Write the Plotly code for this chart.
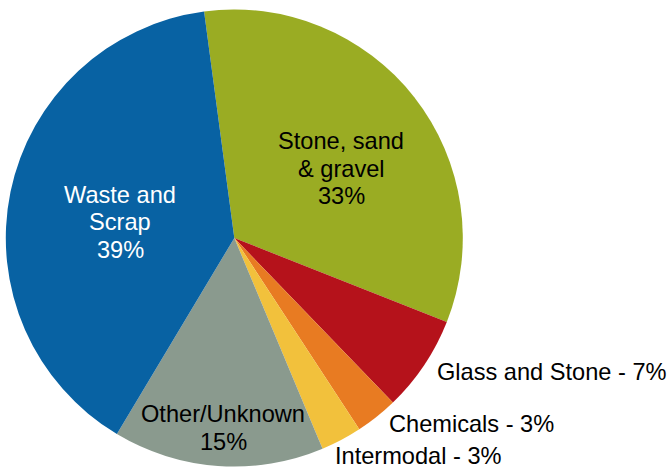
import plotly.graph_objects as go

# Data (clockwise from the top)
categories = ["Stone, sand & gravel", "Glass and Stone", "Chemicals", "Intermodal", "Other/Unknown", "Waste and Scrap"]
values = [33.1, 6.8, 3.0, 2.9, 14.9, 39.3]
colors = ["#9AAC23", "#B5121B", "#E87B22", "#F2C13C", "#8A9A8E", "#0862A3"]

# Label text lines (built from data) and styling / placement (layout)
label_lines = [
    ["Stone, sand", "& gravel", "{p}%"],
    ["Glass and Stone - {p}%"],
    ["Chemicals - {p}%"],
    ["Intermodal - {p}%"],
    ["Other/Unknown", "{p}%"],
    ["Waste and", "Scrap", "{p}%"],
]
label_color = ["#000000", "#000000", "#000000", "#000000", "#000000", "#FFFFFF"]
# (x px, first-line y px, anchor)
label_pos = [
    (341, 141, "center"),
    (435, 372, "left"),
    (387, 424, "left"),
    (333, 456, "left"),
    (223, 414, "center"),
    (120, 195, "center"),
]
LINE_STEP = 27.5
W, H = 668, 470
FONT = "Liberation Sans, Arial, sans-serif"
FSIZE = 23.6

total = sum(values)
fig = go.Figure(go.Pie(
    labels=categories,
    values=values,
    sort=False,
    direction="clockwise",
    rotation=-7.6,
    marker=dict(colors=colors, line=dict(width=0)),
    textinfo="none",
    hoverinfo="label+percent",
    showlegend=False,
    domain=dict(x=[5.8 / W, 462.8 / W], y=[1 - 466.5 / H, 1 - 9.5 / H]),
))

annotations = []
for cat, v, lines, col, (px, py, anc) in zip(categories, values, label_lines, label_color, label_pos):
    pct = round(v / total * 100)
    for i, ln in enumerate(lines):
        annotations.append(dict(
            text=ln.format(p=pct),
            x=px / W, y=1 - (py + i * LINE_STEP) / H,
            xref="paper", yref="paper",
            xanchor=anc, yanchor="middle",
            showarrow=False,
            font=dict(family=FONT, size=FSIZE, color=col),
        ))

fig.update_layout(
    width=W, height=H,
    margin=dict(l=0, r=0, t=0, b=0),
    paper_bgcolor="white",
    plot_bgcolor="white",
    annotations=annotations,
)

fig.write_html(
    "out.html",
    config={"displayModeBar": False},
    post_script="document.body.style.margin='0';document.body.style.overflow='hidden';",
)
